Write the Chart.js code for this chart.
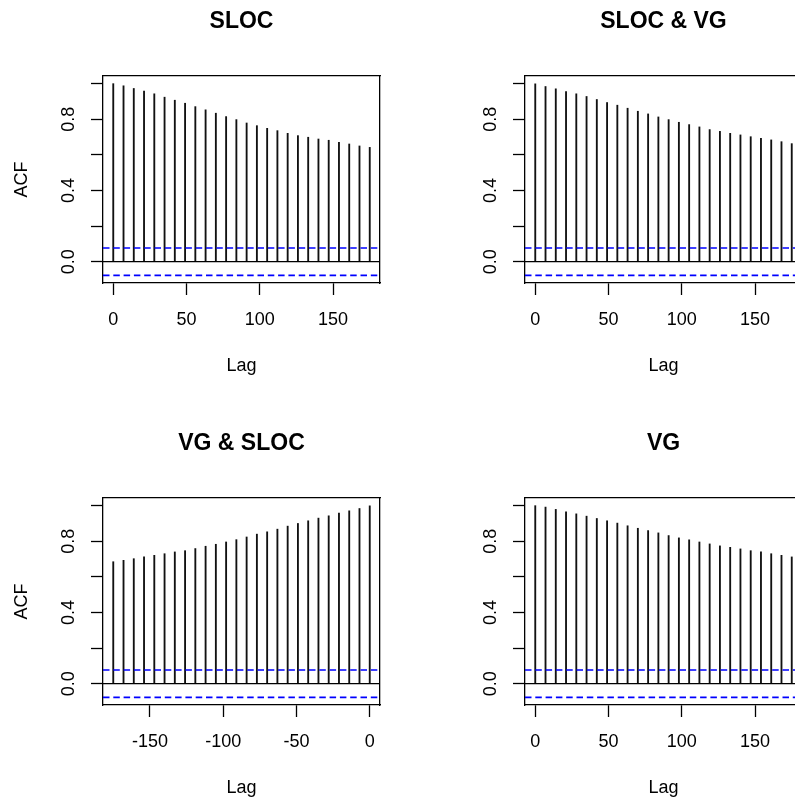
<!DOCTYPE html>
<html>
<head>
<meta charset="utf-8">
<script src="https://cdn.jsdelivr.net/npm/chart.js@4.4.1/dist/chart.umd.min.js"></script>
<style>
  html, body { margin: 0; padding: 0; background: #fff; overflow: hidden; }
  #grid { position: relative; width: 844px; height: 844px; }
  .panel { position: absolute; width: 422px; height: 422px; }
</style>
</head>
<body>
<div id="grid">
  <div class="panel" style="left:0;top:0"><canvas id="c0" width="422" height="422"></canvas></div>
  <div class="panel" style="left:422px;top:0"><canvas id="c1" width="422" height="422"></canvas></div>
  <div class="panel" style="left:0;top:422px"><canvas id="c2" width="422" height="422"></canvas></div>
  <div class="panel" style="left:422px;top:422px"><canvas id="c3" width="422" height="422"></canvas></div>
</div>
<script>
const lagsPos = [0, 7, 14, 21, 28, 35, 42, 49, 56, 63, 70, 77, 84, 91, 98, 105, 112, 119, 126, 133, 140, 147, 154, 161, 168, 175];
const lagsNeg = [-175, -168, -161, -154, -147, -140, -133, -126, -119, -112, -105, -98, -91, -84, -77, -70, -63, -56, -49, -42, -35, -28, -21, -14, -7, 0];

const acfSloc = [1.0, 0.988, 0.973, 0.958, 0.943, 0.924, 0.907, 0.890, 0.871, 0.853, 0.834, 0.815, 0.798, 0.779, 0.764, 0.749, 0.736, 0.721, 0.708, 0.699, 0.689, 0.682, 0.670, 0.661, 0.650, 0.642];
const ccfSlocVg = [0.999, 0.984, 0.971, 0.956, 0.943, 0.928, 0.911, 0.894, 0.879, 0.862, 0.845, 0.830, 0.813, 0.798, 0.783, 0.770, 0.757, 0.742, 0.732, 0.721, 0.712, 0.702, 0.693, 0.684, 0.674, 0.663];
const ccfVgSloc = [0.685, 0.693, 0.702, 0.712, 0.721, 0.730, 0.740, 0.747, 0.759, 0.772, 0.783, 0.796, 0.809, 0.824, 0.840, 0.853, 0.868, 0.885, 0.900, 0.915, 0.930, 0.943, 0.958, 0.971, 0.984, 0.999];
const acfVg = [1.0, 0.992, 0.979, 0.966, 0.954, 0.941, 0.928, 0.915, 0.902, 0.887, 0.873, 0.860, 0.847, 0.832, 0.819, 0.808, 0.796, 0.785, 0.774, 0.766, 0.757, 0.747, 0.740, 0.730, 0.721, 0.712];

const xTicksPos = [0, 50, 100, 150];
const xTicksNeg = [-150, -100, -50, 0];
const yTicks = [0, 0.2, 0.4, 0.6, 0.8, 1.0];
const yTickLabels = ['0.0', '', '0.4', '', '0.8', ''];
const clim = 0.077;

const BLUE = '#0000ff';
const LW = 1.3;
const FONT = { family: '"Liberation Sans", Arial, Helvetica, sans-serif', size: 18 };

Chart.defaults.font.family = FONT.family;
Chart.defaults.color = '#000';

// shared y range like R's acf: range of everything, padded 4%
const allVals = [...acfSloc, ...ccfSlocVg, ...ccfVgSloc, ...acfVg, -clim, clim];
const yMinV = Math.min(...allVals), yMaxV = Math.max(...allVals);
const yPad = (yMaxV - yMinV) * 0.04;
const yLo = yMinV - yPad, yHi = yMaxV + yPad;

const axisGrid = { drawOnChartArea: false, drawTicks: true, tickLength: 12, tickWidth: LW, tickColor: '#000', offset: false };
const axisBorder = { display: true, color: '#000', width: LW };
const boxEdge = (pos, fit) => ({
  type: 'linear', position: pos, display: true, afterFit: fit,
  grid: { drawOnChartArea: false, drawTicks: false },
  ticks: { display: false },
  border: axisBorder
});

const makePanel = (canvasId, title, lags, values, xTicks, yTitle) => {
  const xMin = Math.min(...lags), xMax = Math.max(...lags);
  const xPad = (xMax - xMin) * 0.04;
  const lo = xMin - xPad, hi = xMax + xPad;
  const hline = (y) => [{ x: lo, y }, { x: hi, y }];
  const dashed = (y) => ({ type: 'line', data: hline(y), borderColor: BLUE, borderWidth: 1.6, borderDash: [6.5, 3.8], pointRadius: 0, order: 0, xAxisID: 'x', yAxisID: 'y' });

  new Chart(document.getElementById(canvasId), {
    type: 'bar',
    data: {
      datasets: [
        dashed(clim),
        dashed(-clim),
        { type: 'line', data: hline(0), borderColor: '#000', borderWidth: LW, pointRadius: 0, order: 1, xAxisID: 'x', yAxisID: 'y' },
        { data: lags.map((l, i) => ({ x: l, y: values[i] })), backgroundColor: '#111', borderWidth: 0, barThickness: 1.2, order: 2, xAxisID: 'x', yAxisID: 'y' }
      ]
    },
    options: {
      responsive: false,
      animation: false,
      events: [],
      layout: { padding: { left: 0, top: 0, right: 42, bottom: 0 } },
      plugins: {
        legend: { display: false },
        tooltip: { enabled: false },
        title: { display: true, text: title, fullSize: false, color: '#000', font: { size: 23, weight: 'bold' }, padding: { top: 8.2, bottom: 40.2 } }
      },
      scales: {
        x: {
          type: 'linear', min: lo, max: hi, offset: false,
          afterBuildTicks: (s) => { s.ticks = xTicks.map((v) => ({ value: v })); },
          afterFit: (s) => { s.height = 139; },
          grid: axisGrid,
          border: axisBorder,
          ticks: { font: FONT, color: '#000', padding: 14.5, maxRotation: 0, autoSkip: false },
          title: { display: true, text: 'Lag', color: '#000', font: FONT, padding: { top: 0, bottom: 45.4 } }
        },
        y: {
          type: 'linear', min: yLo, max: yHi,
          afterBuildTicks: (s) => { s.ticks = yTicks.map((v) => ({ value: v })); },
          afterFit: (s) => { s.width = 103; },
          grid: axisGrid,
          border: axisBorder,
          ticks: { font: FONT, color: '#000', padding: 9.7, minRotation: 90, maxRotation: 90, crossAlign: 'center', autoSkip: false, callback: (v, i) => yTickLabels[i] },
          title: { display: yTitle, text: 'ACF', color: '#000', font: FONT, padding: { top: 11.3, bottom: 0 } }
        },
        xTop: boxEdge('top', (s) => { s.height = 0; }),
        yRight: boxEdge('right', (s) => { s.width = 0; })
      }
    }
  });
};

makePanel('c0', 'SLOC', lagsPos, acfSloc, xTicksPos, true);
makePanel('c1', 'SLOC & VG', lagsPos, ccfSlocVg, xTicksPos, false);
makePanel('c2', 'VG & SLOC', lagsNeg, ccfVgSloc, xTicksNeg, true);
makePanel('c3', 'VG', lagsPos, acfVg, xTicksPos, false);
</script>
</body>
</html>
